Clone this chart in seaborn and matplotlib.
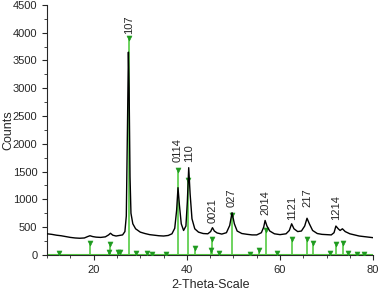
import matplotlib
matplotlib.use("Agg")
import matplotlib.pyplot as plt
import seaborn as sns
import pandas as pd
from matplotlib.ticker import MultipleLocator

# measured pattern (black curve)
two_theta = [10, 11, 12, 13, 14, 15, 16, 17, 18, 18.7, 19.2, 19.8, 20.5, 21.5, 22.5, 23.2, 23.6, 24.1, 24.8, 25.5,
             26.2, 26.7, 27.0, 27.25, 27.45, 27.6, 27.8, 28.0, 28.4, 29.0, 30, 31, 32, 33, 34, 35, 36, 36.8, 37.4, 37.8,
             38.1, 38.4, 38.8, 39.3, 39.8, 40.1, 40.4, 40.7, 41.1, 41.7, 42.5, 43.5, 44.5, 45.1, 45.5, 45.9, 46.5, 47.5, 48.5, 49.2,
             49.7, 50.2, 50.8, 51.8, 53, 54, 55, 56, 56.5, 56.8, 57.2, 57.8, 58.8, 60, 61.3, 62, 62.5, 63, 63.8, 64.6,
             65.3, 65.8, 66.3, 67, 68, 69, 70, 71, 71.6, 72.0, 72.5, 72.9, 73.4, 74, 75, 76, 77, 78, 79, 80]
counts = [380, 370, 355, 345, 330, 315, 305, 300, 305, 330, 345, 330, 320, 315, 325, 360, 390, 355, 340, 350,
          360, 420, 700, 2300, 3650, 3000, 1400, 750, 560, 470, 410, 385, 365, 355, 345, 340, 350, 380, 480, 800,
          1210, 900, 560, 440, 520, 950, 1570, 1100, 650, 470, 410, 385, 380, 420, 490, 430, 395, 375, 400, 530,
          760, 560, 430, 385, 370, 360, 360, 400, 500, 620, 520, 430, 380, 365, 380, 440, 560, 470, 420, 430,
          520, 660, 560, 440, 385, 370, 365, 360, 400, 520, 470, 440, 470, 420, 380, 360, 340, 330, 320, 310]

# reference pattern (green sticks)
ref_pos = [12.5, 19.2, 23.3, 23.5, 25.3, 25.6, 27.5, 29.0, 31.5, 32.5, 35.5, 38.1, 40.2, 41.8, 45.2, 45.4,
           46.8, 49.7, 53.5, 55.5, 56.9, 59.3, 62.5, 65.8, 67.0, 70.8, 72.0, 73.5, 74.6, 76.5, 78.0]
ref_int = [30, 220, 50, 190, 55, 55, 3900, 30, 30, 25, 20, 1525, 1355, 130, 80, 285,
           30, 720, 25, 90, 450, 40, 290, 285, 210, 40, 200, 210, 35, 20, 15]

# peak labels
hkl_labels = ['107', '0114', '110', '0021', '027', '2014', '1121', '217', '1214']
hkl_pos = [27.5, 38.1, 40.4, 45.5, 49.7, 56.8, 62.5, 65.8, 72.0]
hkl_y = [3980, 1680, 1680, 570, 870, 720, 630, 870, 630]

sns.set_style("ticks")
plt.rcParams['font.family'] = ['Liberation Sans', 'DejaVu Sans']

fig = plt.figure(figsize=(3.8, 2.9), dpi=100)
ax = fig.add_axes([0.124, 0.121, 0.858, 0.862])

line_green = '#55cc44'
tri_green = '#1f9a1f'

ax.vlines(ref_pos, 0, ref_int, color=line_green, lw=1.2, zorder=2)
ax.axhline(0, color=line_green, lw=1.5, zorder=2)
ref_df = pd.DataFrame({'x': ref_pos, 'y': ref_int})
sns.scatterplot(data=ref_df, x='x', y='y', marker='v', s=13, color=tri_green,
                edgecolor=tri_green, linewidth=0.4, ax=ax, zorder=3)

df = pd.DataFrame({'x': two_theta, 'y': counts})
sns.lineplot(data=df, x='x', y='y', color='black', lw=1.0, ax=ax, zorder=4)

for lab, xp, yp in zip(hkl_labels, hkl_pos, hkl_y):
    ax.text(xp, yp, lab, rotation=90, ha='center', va='bottom', fontsize=8)

ax.set_xlim(10, 80)
ax.set_ylim(0, 4500)
ax.xaxis.set_major_locator(MultipleLocator(20))
ax.xaxis.set_minor_locator(MultipleLocator(5))
ax.yaxis.set_major_locator(MultipleLocator(500))
ax.yaxis.set_minor_locator(MultipleLocator(250))
ax.tick_params(axis='both', which='major', labelsize=8, length=3.5, width=0.8)
ax.tick_params(axis='both', which='minor', length=2, width=0.6)
ax.set_xlabel('2-Theta-Scale', fontsize=9, labelpad=3)
ax.set_ylabel('Counts', fontsize=9)
ax.yaxis.set_label_coords(-0.10, 0.5)
sns.despine(ax=ax)

fig.savefig('out.png', dpi=100)
